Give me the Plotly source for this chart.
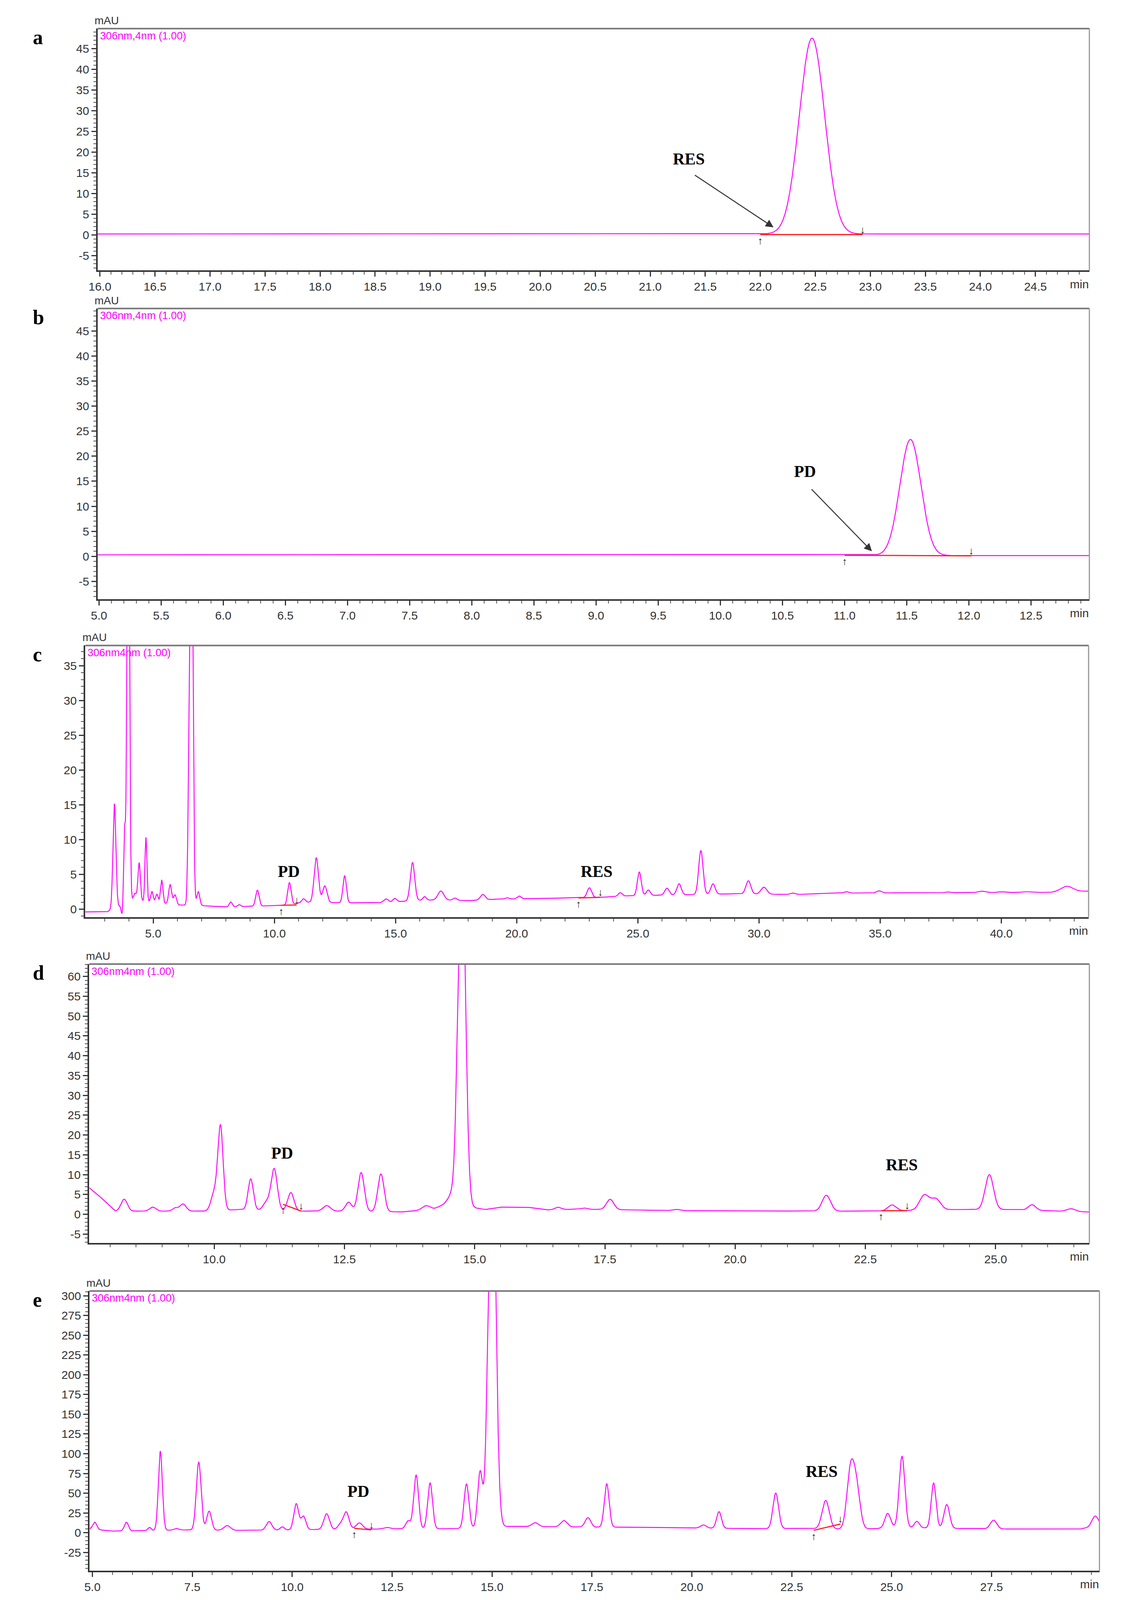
import numpy as np
import plotly.graph_objects as go

W, H0 = 2879, 5408
H = 4096            # visible viewport height; layout is mapped from reference pixels
SY = H / H0

# ---------------- data ----------------
# each panel: baseline knots (time, mAU), peaks (retention time, height above baseline, sigma)
a_base_t = [15.9, 25.1]
a_base_y = [0.2, 0.2]
a_peak_rt = [22.47]
a_peak_h = [47.3]
a_peak_w = [0.115]

b_base_t = [4.9, 11.2, 11.3, 13.1]
b_base_y = [0.3, 0.3, 0.15, 0.15]
b_peak_rt = [11.53]
b_peak_h = [23.2]
b_peak_w = [0.085]

c_base_t = [2.1, 3.1, 3.3, 4.2, 5.0, 6.0, 7.0, 8.0, 10.0, 10.6, 11.2, 13.0, 14.3, 16.2, 17.5, 18.0, 19.0, 22.0, 23.5, 24.5, 26.0, 29.0, 31.5, 33.0, 41.0, 42.0, 43.7]
c_base_y = [-0.4, -0.4, 0.0, 1.3, 1.0, 0.6, 0.5, 0.3, 0.5, 0.6, 1.0, 0.9, 0.9, 1.3, 1.3, 1.2, 1.4, 1.6, 1.7, 1.9, 2.0, 2.2, 2.1, 2.3, 2.4, 2.4, 2.6]
c_peak_rt = [3.40, 3.72, 3.82, 3.97, 4.25, 4.42, 4.70, 4.95, 5.15, 5.35, 5.70, 5.90, 6.48, 6.58, 6.86, 8.20, 8.55, 9.30, 10.62, 11.20, 11.73, 12.08, 12.90, 14.60, 14.97, 15.70, 16.20, 16.87, 17.45, 18.60, 19.60, 20.10, 23.00, 24.27, 25.06, 25.43, 26.20, 26.70, 27.60, 28.10, 29.56, 30.20, 31.40, 33.60, 34.95, 37.80, 39.20, 40.00, 41.00, 42.70]
c_peak_h = [15.0, -1.5, 10.5, 70.0, 1.0, 5.4, 9.2, 1.5, 1.2, 3.3, 2.8, 1.4, 14.0, 60.0, 2.0, 0.7, 0.3, 2.3, 3.2, 0.5, 6.4, 2.4, 3.9, 0.5, 0.5, 5.5, 0.5, 1.3, 0.3, 0.8, 0.2, 0.4, 1.4, 0.5, 3.4, 0.8, 1.0, 1.6, 6.3, 1.5, 1.9, 1.0, 0.2, 0.2, 0.3, 0.1, 0.2, 0.1, 0.1, 0.8]
c_peak_w = [0.06, 0.04, 0.04, 0.05, 0.06, 0.05, 0.04, 0.05, 0.05, 0.05, 0.06, 0.06, 0.05, 0.06, 0.06, 0.06, 0.06, 0.07, 0.07, 0.07, 0.09, 0.09, 0.07, 0.09, 0.08, 0.09, 0.07, 0.12, 0.07, 0.10, 0.08, 0.08, 0.09, 0.08, 0.08, 0.08, 0.09, 0.09, 0.09, 0.09, 0.10, 0.12, 0.10, 0.10, 0.10, 0.10, 0.15, 0.15, 0.15, 0.25]

d_base_t = [7.5, 7.8, 8.1, 9.0, 9.8, 10.5, 11.7, 12.3, 13.6, 14.2, 14.45, 15.2, 15.5, 16.0, 16.4, 17.0, 18.0, 19.0, 21.5, 22.8, 24.2, 25.3, 26.2, 27.0]
d_base_y = [7.8, 4.5, 0.8, 0.8, 0.8, 1.2, 0.8, 0.8, 0.6, 1.2, 2.8, 1.2, 1.8, 1.8, 1.1, 1.3, 1.1, 0.9, 0.8, 0.8, 1.2, 1.2, 0.8, 0.5]
d_peak_rt = [8.27, 8.82, 9.25, 9.40, 10.00, 10.12, 10.70, 11.00, 11.15, 11.47, 12.16, 12.58, 12.82, 13.20, 14.07, 14.55, 14.75, 16.60, 17.10, 17.60, 18.88, 21.75, 23.01, 23.63, 23.85, 24.88, 25.70, 26.45]
d_peak_h = [3.0, 1.0, 0.8, 1.8, 4.5, 21.0, 7.8, 2.0, 10.5, 4.6, 1.4, 2.3, 9.8, 9.5, 1.1, 2.0, 95.0, 0.6, 0.3, 2.6, 0.3, 4.0, 1.5, 3.8, 2.8, 8.8, 1.4, 0.7]
d_peak_w = [0.06, 0.06, 0.05, 0.06, 0.06, 0.05, 0.05, 0.06, 0.06, 0.06, 0.07, 0.06, 0.06, 0.06, 0.08, 0.06, 0.07, 0.06, 0.06, 0.07, 0.07, 0.08, 0.08, 0.09, 0.09, 0.08, 0.07, 0.08]

e_base_t = [4.9, 5.5, 6.2, 7.3, 8.6, 9.2, 10.5, 12.0, 12.8, 14.0, 15.4, 16.5, 17.6, 18.5, 20.0, 21.8, 22.7, 23.7, 24.6, 25.0, 27.0, 28.5, 29.7, 30.3]
e_base_y = [5.0, 2.0, 2.5, 3.5, 3.0, 3.0, 4.0, 4.5, 5.0, 5.0, 8.0, 7.5, 7.0, 7.0, 6.0, 5.0, 5.5, 4.5, 5.0, 7.0, 5.0, 4.5, 4.5, 10.0]
e_peak_rt = [5.06, 5.85, 6.43, 6.70, 7.10, 7.66, 7.92, 8.37, 9.42, 9.75, 10.10, 10.28, 10.86, 11.20, 11.35, 11.68, 12.37, 12.90, 13.10, 13.45, 14.36, 14.70, 15.00, 16.08, 16.80, 17.40, 17.87, 20.29, 20.68, 22.10, 23.35, 23.97, 24.12, 24.90, 25.26, 25.63, 26.05, 26.38, 27.55, 30.09]
e_peak_h = [9.0, 11.0, 4.0, 100.0, 2.0, 86.0, 24.0, 6.0, 11.0, 4.0, 33.0, 17.0, 20.0, 6.0, 22.0, 8.0, 2.0, 10.0, 68.0, 58.0, 56.0, 70.0, 520.0, 5.0, 8.0, 12.0, 55.0, 4.0, 21.0, 45.0, 36.0, 72.0, 50.0, 18.0, 90.0, 8.0, 57.0, 30.0, 11.0, 13.0]
e_peak_w = [0.05, 0.05, 0.04, 0.05, 0.06, 0.06, 0.06, 0.08, 0.07, 0.05, 0.06, 0.06, 0.07, 0.06, 0.07, 0.08, 0.08, 0.06, 0.06, 0.06, 0.06, 0.06, 0.09, 0.08, 0.08, 0.07, 0.06, 0.07, 0.06, 0.07, 0.09, 0.09, 0.09, 0.07, 0.07, 0.06, 0.06, 0.07, 0.08, 0.08]

# integration (baseline) segments: (t0, y0, t1, y1)
a_integ = [(22.0, 0.05, 22.93, 0.05)]
b_integ = [(11.0, 0.2, 12.02, 0.1)]
c_integ = [(10.28, 0.55, 10.92, 0.6), (22.55, 1.6, 23.45, 1.7)]
d_integ = [(11.32, 2.5, 11.67, 0.8), (22.8, 0.9, 23.3, 0.9)]
e_integ = [(11.55, 5.5, 11.98, 3.5), (23.05, 3.0, 23.72, 11.0)]

panels = [
    dict(letter="a", bt=a_base_t, by=a_base_y, rt=a_peak_rt, ph=a_peak_h, pw=a_peak_w, integ=a_integ,
         x0=220, x1=2779, y0=81, y1=899, xr=[15.98, 24.99], yr=[-8.6, 49.8],
         xt=(16.0, 24.5, 0.5), xm=0.1, yt=(-5, 45, 5), ym=1, lab="306nm,4nm (1.00)"),
    dict(letter="b", bt=b_base_t, by=b_base_y, rt=b_peak_rt, ph=b_peak_h, pw=b_peak_w, integ=b_integ,
         x0=220, x1=2779, y0=1028, y1=2012, xr=[4.99, 12.97], yr=[-8.6, 49.5],
         xt=(5.0, 12.5, 0.5), xm=0.1, yt=(-5, 45, 5), ym=1, lab="306nm,4nm (1.00)"),
    dict(letter="c", bt=c_base_t, by=c_base_y, rt=c_peak_rt, ph=c_peak_h, pw=c_peak_w, integ=c_integ,
         x0=188, x1=2777, y0=2168, y1=3087, xr=[2.2, 43.6], yr=[-1.15, 37.9],
         xt=(5.0, 40.0, 5.0), xm=1.0, yt=(0, 35, 5), ym=1, lab="306nm4nm (1.00)"),
    dict(letter="d", bt=d_base_t, by=d_base_y, rt=d_peak_rt, ph=d_peak_h, pw=d_peak_w, integ=d_integ,
         x0=198, x1=2779, y0=3246, y1=4189, xr=[7.6, 26.8], yr=[-7.2, 63.1],
         xt=(10.0, 25.0, 2.5), xm=0.5, yt=(-5, 60, 5), ym=1, lab="306nm4nm (1.00)"),
    dict(letter="e", bt=e_base_t, by=e_base_y, rt=e_peak_rt, ph=e_peak_h, pw=e_peak_w, integ=e_integ,
         x0=199, x1=2805, y0=4352, y1=5298, xr=[4.93, 30.2], yr=[-48, 306],
         xt=(5.0, 27.5, 2.5), xm=0.5, yt=(-25, 300, 25), ym=5, lab="306nm4nm (1.00)"),
]

# compound labels: (panel, text, x, y, arrow_to_x, arrow_to_y)
labels = [
    (0, "RES", 21.35, 16.0, 22.12, 1.8),
    (1, "PD", 10.68, 15.0, 11.22, 1.0),
    (2, "PD", 10.6, 4.0, None, None),
    (2, "RES", 23.3, 4.0, None, None),
    (3, "PD", 11.3, 13.0, None, None),
    (3, "RES", 23.2, 10.0, None, None),
    (4, "PD", 11.65, 40.0, None, None),
    (4, "RES", 23.25, 65.0, None, None),
]

MAG = "#FF00FF"
fig = go.Figure()
layout = dict(width=W, height=H, margin=dict(l=0, r=0, t=0, b=0),
              paper_bgcolor="white", plot_bgcolor="white", showlegend=False)
annotations = []
shapes = []
TICKFONT = dict(family="Liberation Sans, Arial", size=30, color="#333333")

def fx(px):
    return px / W

def fy(py):
    return 1 - py / H0

for i, p in enumerate(panels):
    n = "" if i == 0 else str(i + 1)
    xa, ya = "x" + n, "y" + n
    t = np.linspace(p["xr"][0], p["xr"][1], 6000)
    sig = np.interp(t, p["bt"], p["by"])
    for rt, h, w in zip(p["rt"], p["ph"], p["pw"]):
        sig = sig + h * np.exp(-0.5 * ((t - rt) / w) ** 2)
    fig.add_trace(go.Scatter(x=t, y=sig, mode="lines", line=dict(color=MAG, width=2.4),
                             xaxis=xa, yaxis=ya, hoverinfo="skip"))
    for (t0, v0, t1, v1) in p["integ"]:
        fig.add_trace(go.Scatter(x=[t0, t1], y=[v0, v1], mode="lines",
                                 line=dict(color="#FF2020", width=3), xaxis=xa, yaxis=ya))
        annotations.append(dict(x=t0, y=v0, xref=xa, yref=ya, text="↑", showarrow=False,
                                yshift=-14, font=dict(size=26, color="#222222")))
        annotations.append(dict(x=t1, y=v1, xref=xa, yref=ya, text="↓", showarrow=False,
                                yshift=14, font=dict(size=26, color="#222222")))
    xs, xe, xstep = p["xt"]
    xticks = list(np.arange(xs, xe + 1e-9, xstep))
    ys_, ye_, ystep = p["yt"]
    yticks = list(np.arange(ys_, ye_ + 1e-9, ystep))
    axx = dict(domain=[fx(p["x0"]), fx(p["x1"])], range=p["xr"], anchor=ya,
               tickmode="array", tickvals=xticks, ticktext=["%.1f" % v for v in xticks],
               ticks="outside", ticklen=12, tickwidth=3, tickcolor="#333333",
               showline=True, linecolor="#333333", linewidth=4, mirror=False,
               showgrid=False, zeroline=False, tickfont=TICKFONT,
               minor=dict(dtick=p["xm"], tick0=xs, ticks="outside", ticklen=7, tickwidth=2, tickcolor="#555555", showgrid=False))
    axy = dict(domain=[fy(p["y1"]), fy(p["y0"])], range=p["yr"], anchor=xa,
               tickmode="array", tickvals=yticks, ticktext=["%g" % v for v in yticks],
               ticks="outside", ticklen=12, tickwidth=3, tickcolor="#333333",
               showline=True, linecolor="#333333", linewidth=4, mirror=False,
               showgrid=False, zeroline=False, tickfont=TICKFONT,
               minor=dict(dtick=p["ym"], tick0=ys_, ticks="outside", ticklen=7, tickwidth=2, tickcolor="#555555", showgrid=False))
    layout["xaxis" + n] = axx
    layout["yaxis" + n] = axy
    shapes.append(dict(type="line", xref="paper", yref="paper", x0=fx(p["x0"]), x1=fx(p["x1"]),
                       y0=fy(p["y0"]), y1=fy(p["y0"]), line=dict(color="#777777", width=4)))
    shapes.append(dict(type="line", xref="paper", yref="paper", x0=fx(p["x1"]), x1=fx(p["x1"]),
                       y0=fy(p["y0"]), y1=fy(p["y1"]), line=dict(color="#999999", width=3)))
    annotations.append(dict(x=fx(p["x0"] - 10), y=fy(p["y0"] - 4), xref="paper", yref="paper", text="mAU",
                            showarrow=False, xanchor="left", yanchor="bottom",
                            font=dict(family="Liberation Sans, Arial", size=28, color="#333333")))
    annotations.append(dict(x=fx(p["x0"] + 4), y=fy(p["y0"] + 2), xref="paper", yref="paper", text=p["lab"],
                            showarrow=False, xanchor="left", yanchor="top",
                            font=dict(family="Liberation Sans, Arial", size=27, color=MAG)))
    annotations.append(dict(x=fx(p["x1"]), y=fy(p["y1"] + 22), xref="paper", yref="paper", text="min",
                            showarrow=False, xanchor="right", yanchor="top",
                            font=dict(family="Liberation Sans, Arial", size=30, color="#333333")))
    annotations.append(dict(x=fx(50), y=fy(p["y0"] + 30), xref="paper", yref="paper", text="<b>%s</b>" % p["letter"],
                            showarrow=False, xanchor="left", yanchor="middle",
                            font=dict(family="Liberation Serif, Times New Roman", size=52, color="black")))

for (pi, txt, lx, ly, ax_, ay_) in labels:
    n = "" if pi == 0 else str(pi + 1)
    xa, ya = "x" + n, "y" + n
    annotations.append(dict(x=lx, y=ly, xref=xa, yref=ya, text="<b>%s</b>" % txt, showarrow=False,
                            yanchor="bottom", font=dict(family="Liberation Serif, Times New Roman", size=42, color="black")))
    if ax_ is not None:
        annotations.append(dict(x=ax_, y=ay_, xref=xa, yref=ya, ax=lx + 0.05, ay=ly - 1.5, axref=xa, ayref=ya,
                                text="", showarrow=True, arrowhead=2, arrowsize=1.6, arrowwidth=2.5,
                                arrowcolor="#333333"))

layout["annotations"] = annotations
layout["shapes"] = shapes
fig.update_layout(**layout)
fig.write_html("out.html")
